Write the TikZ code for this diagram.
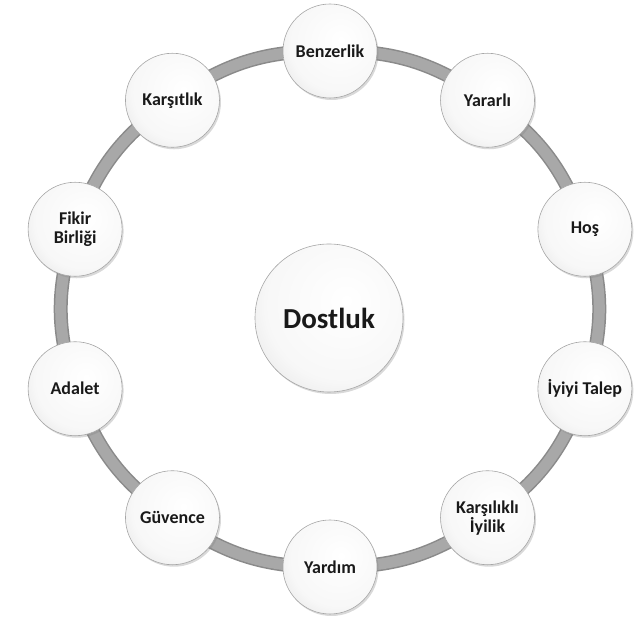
\documentclass[tikz,border=0pt]{standalone}
\usepackage{fontspec}
\setmainfont{Carlito}
\usepackage{tikz}
\usetikzlibrary{calc}
\usetikzlibrary{shadows}
\usetikzlibrary{backgrounds}
\definecolor{ringgray}{RGB}{168,168,168}
\definecolor{ringedge}{RGB}{138,138,138}
\pgfdeclareradialshading{button}{\pgfpoint{6bp}{6bp}}{color(0bp)=(white); color(26bp)=(white!97!black); color(38bp)=(white!90!black); color(45bp)=(white!78!black); color(50bp)=(white!90!black); color(100bp)=(white!90!black)}
\tikzset{
  bubble/.style={circle, minimum size=94pt, inner sep=0pt, align=center, shading=button,
    draw=black!35, line width=0.6pt,
    drop shadow={opacity=0.3, shadow xshift=1.5pt, shadow yshift=-2pt},
    font=\fontsize{18}{19}\selectfont\bfseries, text=black!90},
  hub/.style={bubble, minimum size=148pt, font=\fontsize{29}{32}\selectfont\bfseries},
  ring/.style={draw=ringedge, line width=14pt},
  ringin/.style={draw=ringgray, line width=11pt}
}

\begin{document}
\begin{tikzpicture}[x=1pt,y=1pt]
	\useasboundingbox (0,0) rectangle (641,626);
	\coordinate (c) at (330,317);
	\node[hub] (dostluk) at (329,308) {Dostluk};

	\foreach \t [count=\i] in {Benzerlik, Yararlı, Hoş, İyiyi Talep, {Karşılıklı\\İyilik}, Yardım, Güvence, Adalet, {Fikir\\Birliği}, Karşıtlık}
		\node[bubble] (n\i) at ($(c)+({126-36*\i}:268 and 258)$) {\t};

	\begin{scope}[on background layer]
		\foreach \i [evaluate=\i as \j using {int(mod(\i,10)+1)}] in {1,...,10}{
			\draw[ring] (n\i.center) to[bend left=18] (n\j.center);
			\draw[ringin] (n\i.center) to[bend left=18] (n\j.center);}
	\end{scope}
\end{tikzpicture}
\end{document}
